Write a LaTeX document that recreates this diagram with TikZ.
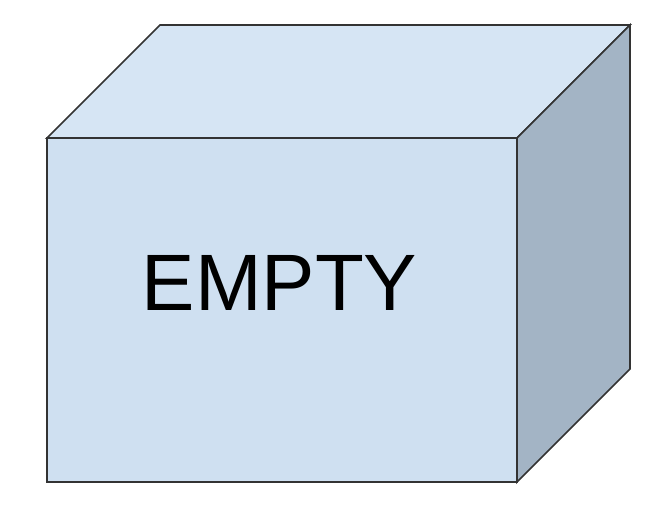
\documentclass[tikz,border=0pt]{standalone}
\usepackage{fontspec}
\setmainfont{Liberation Sans}
\usepackage{xcolor}
\usepackage{tikz}

\definecolor{topface}{HTML}{D6E5F4}
\definecolor{frontface}{HTML}{CFE0F1}
\definecolor{sideface}{HTML}{A3B4C5}
\definecolor{edgecol}{HTML}{333333}

\begin{document}
\begin{tikzpicture}[
        x=1pt, y=-1pt,
        face/.style={draw=edgecol, line width=1.7pt, line join=miter},
        every node/.style={inner sep=0pt, font=\fontsize{80}{96}\selectfont}
    ]
    \useasboundingbox (0,0) rectangle (672,504);

    % Corners of the box
    \coordinate (FTL) at (47,138);
    \coordinate (FTR) at (517,138);
    \coordinate (FBR) at (517,482);
    \coordinate (FBL) at (47,482);
    \coordinate (BTL) at (160,25);
    \coordinate (BTR) at (630,25);
    \coordinate (BBR) at (630,369);

    % Faces
    \draw[face, fill=topface] (FTL) -- (BTL) -- (BTR) -- (FTR) -- cycle;
    \draw[face, fill=sideface] (FTR) -- (BTR) -- (BBR) -- (FBR) -- cycle;
    \draw[face, fill=frontface] (FTL) -- (FTR) -- (FBR) -- (FBL) -- cycle;

    % Label on the front
    \node[anchor=base] (empty) at (279.5,310) {EMPTY};

\end{tikzpicture}
\end{document}
